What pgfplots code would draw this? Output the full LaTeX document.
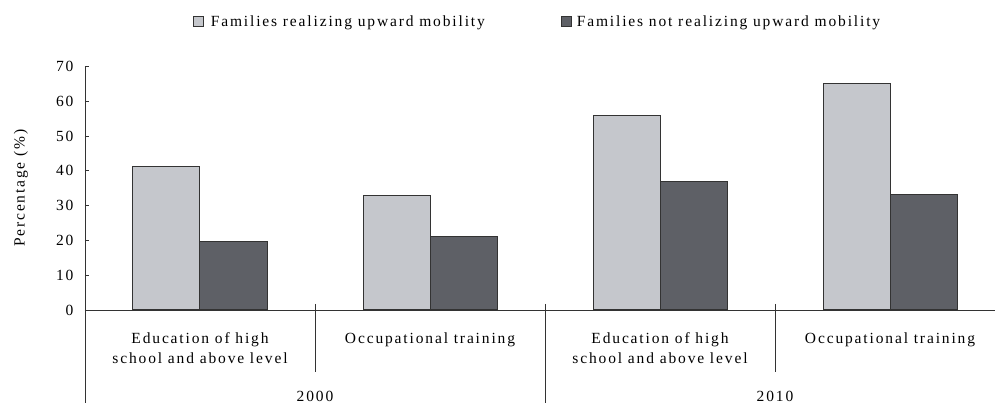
\documentclass[border=0pt]{standalone}
\usepackage{fontspec}
\setmainfont{Liberation Serif}[LetterSpace=12]
\usepackage{pgfplots}
\pgfplotsset{compat=1.18}
\definecolor{lightbar}{HTML}{C5C7CC}
\definecolor{darkbar}{HTML}{5E6066}
\definecolor{edge}{HTML}{333333}
\begin{document}
\begin{tikzpicture}[font=\fontsize{15.5}{20}\selectfont]
\useasboundingbox (-85pt,-93pt) rectangle (910pt,310pt);
\begin{axis}[
  at={(0,0)}, anchor=south west,
  scale only axis, width=920pt, height=243.5pt,
  xmin=-0.5, xmax=3.5, ymin=0, ymax=70,
  ybar=0pt, bar width=67pt,
  axis lines=left, axis line style={-, draw=edge, line width=0.8pt},
  xtick={0,1,2,3},
  xticklabels={{Education of high\\school and above level},{Occupational training},{Education of high\\school and above level},{Occupational training}},
  x tick style={draw=none},
  ytick={0,10,...,70},
  tick align=inside, major tick length=4pt,
  y tick style={draw=edge, line width=0.8pt},
  /pgf/number format/assume math mode=true,
  yticklabel style={xshift=-8pt, font=\fontsize{15.5}{20}\selectfont},
  xticklabel style={align=center, anchor=north, yshift=-19pt, font=\fontsize{15.5}{20}\selectfont},
  enlarge x limits=false,
  clip=false,
  legend style={draw=none, fill=none, at={(0.4918,1.1828)}, anchor=center,
    font=\fontsize{15.5}{20}\selectfont,
    /tikz/every even column/.append style={column sep=74pt}},
  legend columns=2,
  legend cell align=left,
]
\addplot[fill=lightbar, draw=edge, line width=1pt,
  legend image code/.code={\draw[fill=lightbar, draw=edge, line width=1pt] (0pt,-5pt) rectangle (10pt,5pt); \path (15pt,0pt);}]
  coordinates {(0,41.3) (1,33.0) (2,55.9) (3,65.0)};
\addplot[fill=darkbar, draw=edge, line width=1pt,
  legend image code/.code={\draw[fill=darkbar, draw=edge, line width=1pt] (0pt,-5pt) rectangle (10pt,5pt); \path (13pt,0pt);}]
  coordinates {(0,19.8) (1,21.1) (2,36.9) (3,33.3)};
\legend{Families realizing upward mobility, Families not realizing upward mobility}
\draw[edge, line width=0.8pt] (axis cs:-0.5,0) -- ([yshift=-93pt]axis cs:-0.5,0);
\draw[edge, line width=0.8pt] ([yshift=6pt]axis cs:0.5,0) -- ([yshift=-62pt]axis cs:0.5,0);
\draw[edge, line width=0.8pt] ([yshift=6pt]axis cs:1.5,0) -- ([yshift=-93pt]axis cs:1.5,0);
\draw[edge, line width=0.8pt] ([yshift=6pt]axis cs:2.5,0) -- ([yshift=-62pt]axis cs:2.5,0);
\node[anchor=base] at ([yshift=-91pt]axis cs:0.5,0) {2000};
\node[anchor=base] at ([yshift=-91pt]axis cs:2.5,0) {2010};
\node[rotate=90, anchor=center] at ([xshift=-64pt]rel axis cs:0,0.5) {Percentage (\%)};
\end{axis}
\end{tikzpicture}
\end{document}
